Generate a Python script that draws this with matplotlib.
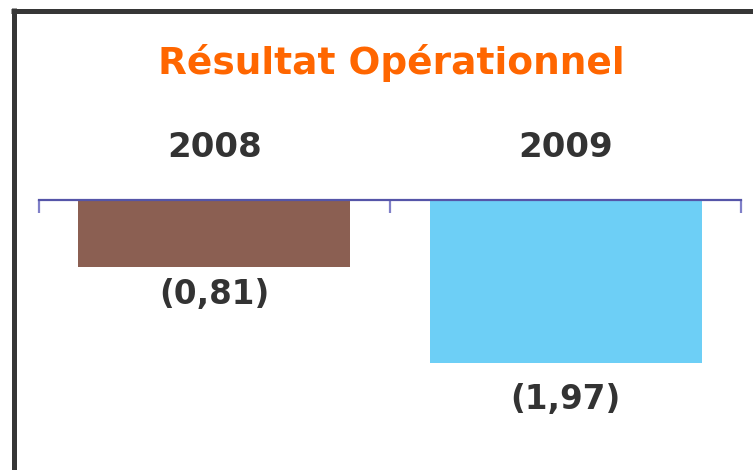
import matplotlib
matplotlib.use("Agg")
import matplotlib.pyplot as plt
from matplotlib.lines import Line2D

years = ['2008', '2009']
values = [-0.81, -1.97]
labels = ['(0,81)', '(1,97)']
colors = ['#8B5F52', '#6DCFF6']
label_offsets = [-27, -33]  # points below bar end

W, H = 753, 470
fig = plt.figure(figsize=(W / 100, H / 100), dpi=100)
fig.patch.set_facecolor('white')

# frame (top + left only)
fig.add_artist(Line2D([11 / W, 1], [1 - 10.5 / H, 1 - 10.5 / H], color='#363636',
                      lw=3.6, transform=fig.transFigure, solid_capstyle='butt'))
fig.add_artist(Line2D([13.5 / W, 13.5 / W], [0, 1 - 8 / H], color='#363636',
                      lw=3.6, transform=fig.transFigure, solid_capstyle='butt'))

fig.text(391 / W, 1 - 74 / H, 'Résultat Opérationnel', color='#FF6600',
         fontsize=27, fontweight='bold', ha='center', va='baseline')

ax = fig.add_axes([38.5 / W, 0, 703 / W, 1 - 200 / H])
ax.bar(range(len(years)), values, width=0.775, color=colors)
ax.set_xlim(-0.5, 1.5)
ax.set_ylim(-270 / 82.7, 0)

for s in ['bottom', 'left', 'right']:
    ax.spines[s].set_visible(False)
ax.spines['top'].set_color('#5555a8')
ax.spines['top'].set_linewidth(1.6)
ax.xaxis.tick_top()
ax.set_xticks([-0.5, 0.5, 1.5])
ax.tick_params(axis='x', direction='in', length=9, width=1.6, color='#8080c8',
               labeltop=False, labelbottom=False)
ax.set_yticks([])

for i, (y, v, lab, off) in enumerate(zip(years, values, labels, label_offsets)):
    ax.annotate(y, xy=(i, 0), xytext=(i, 1 - 157.3 / H), textcoords=('data', 'figure fraction'),
                xycoords='data', ha='center', va='baseline', fontsize=24.5,
                fontweight='bold', color='#333333', annotation_clip=False)
    ax.annotate(lab, xy=(i, v), xytext=(0, off), textcoords='offset points',
                ha='center', va='baseline', fontsize=23.5, fontweight='bold',
                color='#333333', annotation_clip=False)

fig.savefig('out.png', dpi=100)
